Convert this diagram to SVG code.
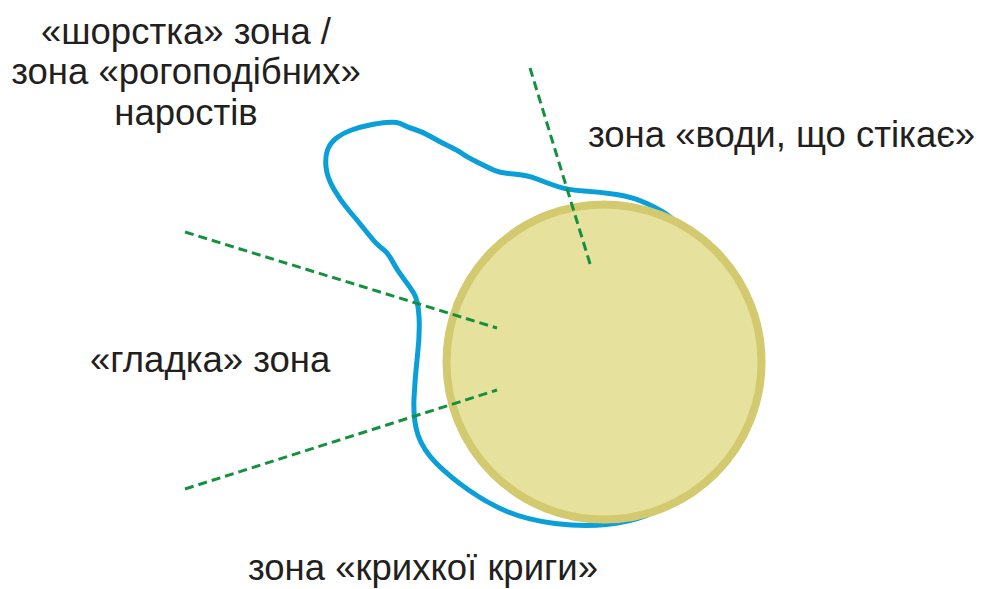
<svg xmlns="http://www.w3.org/2000/svg" width="981" height="589" viewBox="0 0 981 589">
<style>
.lbl{font-family:"Liberation Sans",Arial,sans-serif;font-size:36.5px;fill:#231f20}
.ice{fill:none;stroke:#0a9fd8;stroke-width:5;stroke-linejoin:round;stroke-linecap:round}
.ball{fill:#e6e29e;stroke:#d3c96f;stroke-width:8}
.lead{stroke:#13913f;stroke-width:3;stroke-dasharray:9 5;fill:none}
</style>
<rect width="981" height="589" fill="#ffffff"/>
<g id="ice">
<path class="ice" d="M680 225 L671.5 218 Q663 211 648 204 Q633 197 616.5 194.5 Q600 192 584 191 Q568 190 557.5 186.5 Q547 183 537 179 Q527 175 513.5 174 Q500 173 493.5 170 Q487 167 477 162 Q467 157 462 153.5 Q457 150 448.5 146 Q440 142 431.5 137 Q423 132 415 129.5 Q407 127 403.5 125 Q400 123 396.5 122.5 Q393 122 386.5 122.5 Q380 123 370 125 Q360 127 351.5 130 Q343 133 336.5 138 Q330 143 327.5 150 Q325 157 326 167 Q327 177 333.5 188.5 Q340 200 348.5 210 Q357 220 365 230 Q373 240 376.5 243.5 Q380 247 384 250 Q388 253 392.5 261.5 Q397 270 403.5 278.5 Q410 287 414 293.5 Q418 300 419 316.5 Q420 333 417.5 355 Q415 377 414 398.5 Q413 420 418 435 Q423 450 436.5 463.5 Q450 477 468.5 490 Q487 503 507 511.5 Q527 520 555 523.5 Q583 527 606.5 524.5 Q630 522 645 516 L660 510"/>
</g>
<g id="ball">
<circle class="ball" cx="604" cy="362" r="157.5"/>
</g>
<g id="connectors">
<line class="lead" x1="530" y1="68" x2="591" y2="267"/>
<line class="lead" x1="185" y1="232" x2="497" y2="328"/>
<line class="lead" x1="185" y1="489" x2="497" y2="390"/>
</g>
<g id="label-rough">
<text class="lbl" text-anchor="middle" x="186" y="44">«шорстка» зона /</text>
<text class="lbl" text-anchor="middle" x="186" y="84">зона «рогоподібних»</text>
<text class="lbl" text-anchor="middle" x="186" y="125">наростів</text>
</g>
<g id="label-water">
<text class="lbl" x="588" y="147">зона «води, що стікає»</text>
</g>
<g id="label-smooth">
<text class="lbl" x="90" y="372">«гладка» зона</text>
</g>
<g id="label-brittle">
<text class="lbl" x="248" y="580">зона «крихкої криги»</text>
</g>
</svg>
